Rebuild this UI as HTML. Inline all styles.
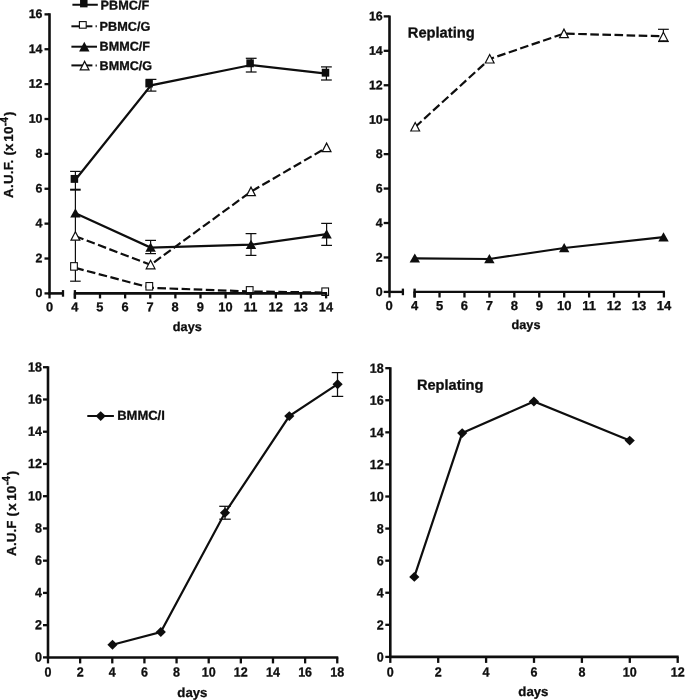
<!DOCTYPE html>
<html><head><meta charset="utf-8"><title>Figure</title>
<style>
html,body{margin:0;padding:0;background:#fff;}
body{width:685px;height:700px;overflow:hidden;}
svg{display:block;will-change:transform;}
svg text{font-family:"Liberation Sans",sans-serif;font-weight:bold;fill:#0e0e0e;stroke:#0e0e0e;stroke-width:0.3px;stroke-linejoin:round;}
</style></head><body>
<svg width="685" height="700" viewBox="0 0 685 700">
<rect width="685" height="700" fill="#fff"/>
<line x1="75.40" y1="171.40" x2="75.40" y2="281.20" stroke="#0e0e0e" stroke-width="1.2" />
<line x1="70.10" y1="171.40" x2="80.70" y2="171.40" stroke="#0e0e0e" stroke-width="1.2" />
<line x1="70.10" y1="189.70" x2="80.70" y2="189.70" stroke="#0e0e0e" stroke-width="2.0" />
<line x1="70.10" y1="281.20" x2="80.70" y2="281.20" stroke="#0e0e0e" stroke-width="1.2" />
<line x1="151.00" y1="79.40" x2="151.00" y2="91.10" stroke="#0e0e0e" stroke-width="1.25" />
<line x1="145.60" y1="79.40" x2="156.40" y2="79.40" stroke="#0e0e0e" stroke-width="1.25" />
<line x1="145.60" y1="91.10" x2="156.40" y2="91.10" stroke="#0e0e0e" stroke-width="1.25" />
<line x1="251.20" y1="58.30" x2="251.20" y2="72.00" stroke="#0e0e0e" stroke-width="1.25" />
<line x1="245.80" y1="58.30" x2="256.60" y2="58.30" stroke="#0e0e0e" stroke-width="1.25" />
<line x1="245.80" y1="72.00" x2="256.60" y2="72.00" stroke="#0e0e0e" stroke-width="1.25" />
<line x1="326.40" y1="66.90" x2="326.40" y2="80.00" stroke="#0e0e0e" stroke-width="1.25" />
<line x1="321.00" y1="66.90" x2="331.80" y2="66.90" stroke="#0e0e0e" stroke-width="1.25" />
<line x1="321.00" y1="80.00" x2="331.80" y2="80.00" stroke="#0e0e0e" stroke-width="1.25" />
<line x1="150.60" y1="240.40" x2="150.60" y2="253.60" stroke="#0e0e0e" stroke-width="1.25" />
<line x1="145.20" y1="240.40" x2="156.00" y2="240.40" stroke="#0e0e0e" stroke-width="1.25" />
<line x1="145.20" y1="253.60" x2="156.00" y2="253.60" stroke="#0e0e0e" stroke-width="1.25" />
<line x1="251.00" y1="233.60" x2="251.00" y2="255.40" stroke="#0e0e0e" stroke-width="1.25" />
<line x1="245.60" y1="233.60" x2="256.40" y2="233.60" stroke="#0e0e0e" stroke-width="1.25" />
<line x1="245.60" y1="255.40" x2="256.40" y2="255.40" stroke="#0e0e0e" stroke-width="1.25" />
<line x1="326.60" y1="223.40" x2="326.60" y2="245.40" stroke="#0e0e0e" stroke-width="1.25" />
<line x1="321.20" y1="223.40" x2="332.00" y2="223.40" stroke="#0e0e0e" stroke-width="1.25" />
<line x1="321.20" y1="245.40" x2="332.00" y2="245.40" stroke="#0e0e0e" stroke-width="1.25" />
<polyline points="75.30,267.90 150.70,287.80 251.00,291.50 326.40,292.60" fill="none" stroke="#0e0e0e" stroke-width="2.2" stroke-linejoin="miter" stroke-dasharray="8.6 3.5"/>
<polyline points="75.40,236.20 150.60,264.80 251.00,191.60 326.60,147.60" fill="none" stroke="#0e0e0e" stroke-width="2.2" stroke-linejoin="miter" stroke-dasharray="8.6 3.5"/>
<polyline points="75.40,213.20 150.60,247.60 251.00,244.70 326.60,234.20" fill="none" stroke="#0e0e0e" stroke-width="2.2" stroke-linejoin="miter" />
<polyline points="75.20,180.00 151.00,85.30 251.20,65.00 326.40,73.70" fill="none" stroke="#0e0e0e" stroke-width="2.2" stroke-linejoin="miter" />
<rect x="70.65" y="262.65" width="6.70" height="7.50" fill="#fff" stroke="#0e0e0e" stroke-width="1.1"/>
<rect x="145.95" y="282.55" width="6.70" height="7.50" fill="#fff" stroke="#0e0e0e" stroke-width="1.1"/>
<rect x="246.35" y="286.65" width="6.70" height="7.50" fill="#fff" stroke="#0e0e0e" stroke-width="1.1"/>
<rect x="321.85" y="287.95" width="6.70" height="7.50" fill="#fff" stroke="#0e0e0e" stroke-width="1.1"/>
<polygon points="75.40,231.70 71.00,240.20 79.80,240.20" fill="#fff" stroke="#0e0e0e" stroke-width="1.2" stroke-linejoin="miter"/>
<polygon points="150.60,260.30 146.20,268.80 155.00,268.80" fill="#fff" stroke="#0e0e0e" stroke-width="1.2" stroke-linejoin="miter"/>
<polygon points="251.00,187.10 246.60,195.60 255.40,195.60" fill="#fff" stroke="#0e0e0e" stroke-width="1.2" stroke-linejoin="miter"/>
<polygon points="326.60,143.10 322.20,151.60 331.00,151.60" fill="#fff" stroke="#0e0e0e" stroke-width="1.2" stroke-linejoin="miter"/>
<polygon points="75.40,208.20 70.20,217.40 80.60,217.40" fill="#0e0e0e"/>
<polygon points="150.60,242.60 145.40,251.80 155.80,251.80" fill="#0e0e0e"/>
<polygon points="251.00,239.70 245.80,248.90 256.20,248.90" fill="#0e0e0e"/>
<polygon points="326.60,229.20 321.40,238.40 331.80,238.40" fill="#0e0e0e"/>
<rect x="70.65" y="174.95" width="7.5" height="7.9" fill="#0e0e0e"/>
<rect x="145.35" y="79.55" width="7.5" height="7.9" fill="#0e0e0e"/>
<rect x="246.35" y="59.35" width="7.5" height="7.9" fill="#0e0e0e"/>
<rect x="321.75" y="68.75" width="7.5" height="7.9" fill="#0e0e0e"/>
<line x1="72.40" y1="4.75" x2="97.80" y2="4.75" stroke="#0e0e0e" stroke-width="2" />
<rect x="80.05" y="-0.55" width="7.5" height="7.9" fill="#0e0e0e"/>
<text x="100.60" y="9.40" transform="rotate(0.03 100.60 9.40)" font-size="12.7" text-anchor="start" >PBMC/F</text>
<line x1="71.40" y1="26.30" x2="92.40" y2="26.30" stroke="#0e0e0e" stroke-width="2" />
<line x1="95.60" y1="26.30" x2="96.80" y2="26.30" stroke="#0e0e0e" stroke-width="2" />
<rect x="79.40" y="21.60" width="6.8" height="6.6" fill="#fff" stroke="#0e0e0e" stroke-width="1.1"/>
<text x="99.60" y="30.80" transform="rotate(0.03 99.60 30.80)" font-size="12.7" text-anchor="start" >PBMC/G</text>
<line x1="71.40" y1="46.70" x2="97.00" y2="46.70" stroke="#0e0e0e" stroke-width="2" />
<polygon points="84.30,41.80 79.10,51.50 89.50,51.50" fill="#0e0e0e"/>
<text x="99.60" y="50.40" transform="rotate(0.03 99.60 50.40)" font-size="12.6" text-anchor="start" >BMMC/F</text>
<line x1="71.40" y1="65.40" x2="92.40" y2="65.40" stroke="#0e0e0e" stroke-width="2" />
<line x1="95.60" y1="65.40" x2="96.80" y2="65.40" stroke="#0e0e0e" stroke-width="2" />
<polygon points="84.60,61.40 80.20,69.90 89.00,69.90" fill="#fff" stroke="#0e0e0e" stroke-width="1.2" stroke-linejoin="miter"/>
<text x="99.60" y="69.90" transform="rotate(0.03 99.60 69.90)" font-size="12.6" text-anchor="start" >BMMC/G</text>
<text transform="translate(13.0,197.9) rotate(-90)" font-size="13.4" letter-spacing="0.2" text-anchor="start">A.U.F. (x <tspan dx="-2.3">10</tspan><tspan font-size="10.2" dy="-5.1">-4</tspan><tspan dx="1.0" dy="5.1">)</tspan></text>
<text x="407.80" y="37.60" transform="rotate(0.03 407.80 37.60)" font-size="14.7" text-anchor="start" >Replating</text>
<line x1="663.40" y1="29.30" x2="663.40" y2="41.50" stroke="#0e0e0e" stroke-width="1.2" />
<line x1="658.00" y1="29.30" x2="668.80" y2="29.30" stroke="#0e0e0e" stroke-width="1.2" />
<line x1="658.00" y1="41.50" x2="668.80" y2="41.50" stroke="#0e0e0e" stroke-width="1.2" />
<polyline points="415.20,127.00 489.69,59.00 563.98,33.60 663.40,36.30" fill="none" stroke="#0e0e0e" stroke-width="2.2" stroke-linejoin="miter" stroke-dasharray="8.6 3.5"/>
<polyline points="414.80,258.40 489.39,259.00 564.18,248.00 663.50,237.20" fill="none" stroke="#0e0e0e" stroke-width="2.2" stroke-linejoin="miter" />
<polygon points="415.20,122.50 410.80,131.00 419.60,131.00" fill="#fff" stroke="#0e0e0e" stroke-width="1.2" stroke-linejoin="miter"/>
<polygon points="489.69,54.50 485.29,63.00 494.09,63.00" fill="#fff" stroke="#0e0e0e" stroke-width="1.2" stroke-linejoin="miter"/>
<polygon points="563.98,29.10 559.58,37.60 568.38,37.60" fill="#fff" stroke="#0e0e0e" stroke-width="1.2" stroke-linejoin="miter"/>
<polygon points="663.40,32.30 659.00,40.80 667.80,40.80" fill="#fff" stroke="#0e0e0e" stroke-width="1.2" stroke-linejoin="miter"/>
<polygon points="414.80,253.40 409.60,262.60 420.00,262.60" fill="#0e0e0e"/>
<polygon points="489.39,254.00 484.19,263.20 494.59,263.20" fill="#0e0e0e"/>
<polygon points="564.18,243.00 558.98,252.20 569.38,252.20" fill="#0e0e0e"/>
<polygon points="663.50,232.20 658.30,241.40 668.70,241.40" fill="#0e0e0e"/>
<line x1="225.00" y1="506.30" x2="225.00" y2="519.20" stroke="#0e0e0e" stroke-width="1.25" />
<line x1="219.25" y1="506.30" x2="230.75" y2="506.30" stroke="#0e0e0e" stroke-width="1.25" />
<line x1="219.25" y1="519.20" x2="230.75" y2="519.20" stroke="#0e0e0e" stroke-width="1.25" />
<line x1="337.50" y1="372.60" x2="337.50" y2="396.40" stroke="#0e0e0e" stroke-width="1.25" />
<line x1="331.75" y1="372.60" x2="343.25" y2="372.60" stroke="#0e0e0e" stroke-width="1.25" />
<line x1="331.75" y1="396.40" x2="343.25" y2="396.40" stroke="#0e0e0e" stroke-width="1.25" />
<polyline points="112.50,644.70 160.80,632.00 225.00,512.80 289.30,416.10 337.60,384.20" fill="none" stroke="#0e0e0e" stroke-width="2.2" stroke-linejoin="miter" />
<polygon points="112.50,639.75 117.60,644.70 112.50,649.65 107.40,644.70" fill="#0e0e0e"/>
<polygon points="160.80,627.05 165.90,632.00 160.80,636.95 155.70,632.00" fill="#0e0e0e"/>
<polygon points="225.00,507.85 230.10,512.80 225.00,517.75 219.90,512.80" fill="#0e0e0e"/>
<polygon points="289.30,411.15 294.40,416.10 289.30,421.05 284.20,416.10" fill="#0e0e0e"/>
<polygon points="337.60,379.25 342.70,384.20 337.60,389.15 332.50,384.20" fill="#0e0e0e"/>
<line x1="87.30" y1="416.00" x2="113.90" y2="416.00" stroke="#0e0e0e" stroke-width="2" />
<polygon points="100.70,411.15 105.80,416.10 100.70,421.05 95.60,416.10" fill="#0e0e0e"/>
<text x="117.20" y="419.80" transform="rotate(0.03 117.20 419.80)" font-size="13.0" text-anchor="start" >BMMC/I</text>
<text transform="translate(15.6,555.9) rotate(-90)" font-size="13.4" letter-spacing="0.12" text-anchor="start">A.U.F (<tspan dx="1.2">x</tspan> <tspan dx="-1.5">10</tspan><tspan font-size="10.2" dx="0.4" dy="-5.8">-4</tspan><tspan dx="0.7" dy="5.8">)</tspan></text>
<text x="416.90" y="389.70" transform="rotate(0.03 416.90 389.70)" font-size="14.6" text-anchor="start" >Replating</text>
<polyline points="414.30,576.90 462.20,433.10 533.90,401.50 629.70,440.60" fill="none" stroke="#0e0e0e" stroke-width="2.2" stroke-linejoin="miter" />
<polygon points="414.30,571.95 419.40,576.90 414.30,581.85 409.20,576.90" fill="#0e0e0e"/>
<polygon points="462.20,428.15 467.30,433.10 462.20,438.05 457.10,433.10" fill="#0e0e0e"/>
<polygon points="533.90,396.55 539.00,401.50 533.90,406.45 528.80,401.50" fill="#0e0e0e"/>
<polygon points="629.70,435.65 634.80,440.60 629.70,445.55 624.60,440.60" fill="#0e0e0e"/>
<line x1="49.50" y1="13.36" x2="49.50" y2="294.40" stroke="#0e0e0e" stroke-width="2.6" />
<line x1="48.50" y1="293.40" x2="63.00" y2="293.40" stroke="#0e0e0e" stroke-width="2.6" />
<line x1="63.00" y1="290.10" x2="63.00" y2="296.70" stroke="#0e0e0e" stroke-width="2.3" />
<line x1="73.90" y1="293.40" x2="327.10" y2="293.40" stroke="#0e0e0e" stroke-width="2.6" />
<line x1="74.90" y1="290.10" x2="74.90" y2="298.80" stroke="#0e0e0e" stroke-width="2.3" />
<line x1="44.50" y1="293.40" x2="49.50" y2="293.40" stroke="#0e0e0e" stroke-width="2.3" />
<text x="42.50" y="297.10" transform="rotate(0.03 42.50 297.10)" font-size="12.4" text-anchor="end" >0</text>
<line x1="44.50" y1="258.52" x2="49.50" y2="258.52" stroke="#0e0e0e" stroke-width="2.3" />
<text x="42.50" y="262.22" transform="rotate(0.03 42.50 262.22)" font-size="12.4" text-anchor="end" >2</text>
<line x1="44.50" y1="223.64" x2="49.50" y2="223.64" stroke="#0e0e0e" stroke-width="2.3" />
<text x="42.50" y="227.34" transform="rotate(0.03 42.50 227.34)" font-size="12.4" text-anchor="end" >4</text>
<line x1="44.50" y1="188.76" x2="49.50" y2="188.76" stroke="#0e0e0e" stroke-width="2.3" />
<text x="42.50" y="192.46" transform="rotate(0.03 42.50 192.46)" font-size="12.4" text-anchor="end" >6</text>
<line x1="44.50" y1="153.88" x2="49.50" y2="153.88" stroke="#0e0e0e" stroke-width="2.3" />
<text x="42.50" y="157.58" transform="rotate(0.03 42.50 157.58)" font-size="12.4" text-anchor="end" >8</text>
<line x1="44.50" y1="119.00" x2="49.50" y2="119.00" stroke="#0e0e0e" stroke-width="2.3" />
<text x="42.50" y="122.70" transform="rotate(0.03 42.50 122.70)" font-size="12.4" text-anchor="end" >10</text>
<line x1="44.50" y1="84.12" x2="49.50" y2="84.12" stroke="#0e0e0e" stroke-width="2.3" />
<text x="42.50" y="87.82" transform="rotate(0.03 42.50 87.82)" font-size="12.4" text-anchor="end" >12</text>
<line x1="44.50" y1="49.24" x2="49.50" y2="49.24" stroke="#0e0e0e" stroke-width="2.3" />
<text x="42.50" y="52.94" transform="rotate(0.03 42.50 52.94)" font-size="12.4" text-anchor="end" >14</text>
<line x1="44.50" y1="14.36" x2="49.50" y2="14.36" stroke="#0e0e0e" stroke-width="2.3" />
<text x="42.50" y="18.06" transform="rotate(0.03 42.50 18.06)" font-size="12.4" text-anchor="end" >16</text>
<line x1="49.50" y1="293.40" x2="49.50" y2="298.40" stroke="#0e0e0e" stroke-width="2.3" />
<text x="49.50" y="311.20" transform="rotate(0.03 49.50 311.20)" font-size="12.8" text-anchor="middle" >0</text>
<line x1="74.90" y1="293.40" x2="74.90" y2="298.40" stroke="#0e0e0e" stroke-width="2.3" />
<text x="74.70" y="311.20" transform="rotate(0.03 74.70 311.20)" font-size="12.8" text-anchor="middle" >4</text>
<line x1="100.02" y1="293.40" x2="100.02" y2="298.40" stroke="#0e0e0e" stroke-width="2.3" />
<text x="99.82" y="311.20" transform="rotate(0.03 99.82 311.20)" font-size="12.8" text-anchor="middle" >5</text>
<line x1="125.14" y1="293.40" x2="125.14" y2="298.40" stroke="#0e0e0e" stroke-width="2.3" />
<text x="124.94" y="311.20" transform="rotate(0.03 124.94 311.20)" font-size="12.8" text-anchor="middle" >6</text>
<line x1="150.26" y1="293.40" x2="150.26" y2="298.40" stroke="#0e0e0e" stroke-width="2.3" />
<text x="150.06" y="311.20" transform="rotate(0.03 150.06 311.20)" font-size="12.8" text-anchor="middle" >7</text>
<line x1="175.38" y1="293.40" x2="175.38" y2="298.40" stroke="#0e0e0e" stroke-width="2.3" />
<text x="175.18" y="311.20" transform="rotate(0.03 175.18 311.20)" font-size="12.8" text-anchor="middle" >8</text>
<line x1="200.50" y1="293.40" x2="200.50" y2="298.40" stroke="#0e0e0e" stroke-width="2.3" />
<text x="200.30" y="311.20" transform="rotate(0.03 200.30 311.20)" font-size="12.8" text-anchor="middle" >9</text>
<line x1="225.62" y1="293.40" x2="225.62" y2="298.40" stroke="#0e0e0e" stroke-width="2.3" />
<text x="225.42" y="311.20" transform="rotate(0.03 225.42 311.20)" font-size="12.8" text-anchor="middle" >10</text>
<line x1="250.74" y1="293.40" x2="250.74" y2="298.40" stroke="#0e0e0e" stroke-width="2.3" />
<text x="250.54" y="311.20" transform="rotate(0.03 250.54 311.20)" font-size="12.8" text-anchor="middle" >11</text>
<line x1="275.86" y1="293.40" x2="275.86" y2="298.40" stroke="#0e0e0e" stroke-width="2.3" />
<text x="275.66" y="311.20" transform="rotate(0.03 275.66 311.20)" font-size="12.8" text-anchor="middle" >12</text>
<line x1="300.98" y1="293.40" x2="300.98" y2="298.40" stroke="#0e0e0e" stroke-width="2.3" />
<text x="300.78" y="311.20" transform="rotate(0.03 300.78 311.20)" font-size="12.8" text-anchor="middle" >13</text>
<line x1="326.10" y1="293.40" x2="326.10" y2="298.40" stroke="#0e0e0e" stroke-width="2.3" />
<text x="325.90" y="311.20" transform="rotate(0.03 325.90 311.20)" font-size="12.8" text-anchor="middle" >14</text>
<text x="187.30" y="331.00" transform="rotate(0.03 187.30 331.00)" font-size="12.7" text-anchor="middle" >days</text>
<line x1="389.50" y1="15.38" x2="389.50" y2="292.90" stroke="#0e0e0e" stroke-width="2.6" />
<line x1="388.50" y1="291.90" x2="402.90" y2="291.90" stroke="#0e0e0e" stroke-width="2.35" />
<line x1="402.90" y1="288.60" x2="402.90" y2="295.20" stroke="#0e0e0e" stroke-width="2.3" />
<line x1="413.60" y1="291.90" x2="664.90" y2="291.90" stroke="#0e0e0e" stroke-width="2.35" />
<line x1="414.60" y1="288.60" x2="414.60" y2="297.50" stroke="#0e0e0e" stroke-width="2.3" />
<line x1="383.70" y1="291.90" x2="389.50" y2="291.90" stroke="#0e0e0e" stroke-width="2.3" />
<text x="382.70" y="295.90" transform="rotate(0.03 382.70 295.90)" font-size="12.4" text-anchor="end" >0</text>
<line x1="383.70" y1="257.46" x2="389.50" y2="257.46" stroke="#0e0e0e" stroke-width="2.3" />
<text x="382.70" y="261.46" transform="rotate(0.03 382.70 261.46)" font-size="12.4" text-anchor="end" >2</text>
<line x1="383.70" y1="223.02" x2="389.50" y2="223.02" stroke="#0e0e0e" stroke-width="2.3" />
<text x="382.70" y="227.02" transform="rotate(0.03 382.70 227.02)" font-size="12.4" text-anchor="end" >4</text>
<line x1="383.70" y1="188.58" x2="389.50" y2="188.58" stroke="#0e0e0e" stroke-width="2.3" />
<text x="382.70" y="192.58" transform="rotate(0.03 382.70 192.58)" font-size="12.4" text-anchor="end" >6</text>
<line x1="383.70" y1="154.14" x2="389.50" y2="154.14" stroke="#0e0e0e" stroke-width="2.3" />
<text x="382.70" y="158.14" transform="rotate(0.03 382.70 158.14)" font-size="12.4" text-anchor="end" >8</text>
<line x1="383.70" y1="119.70" x2="389.50" y2="119.70" stroke="#0e0e0e" stroke-width="2.3" />
<text x="382.70" y="123.70" transform="rotate(0.03 382.70 123.70)" font-size="12.4" text-anchor="end" >10</text>
<line x1="383.70" y1="85.26" x2="389.50" y2="85.26" stroke="#0e0e0e" stroke-width="2.3" />
<text x="382.70" y="89.26" transform="rotate(0.03 382.70 89.26)" font-size="12.4" text-anchor="end" >12</text>
<line x1="383.70" y1="50.82" x2="389.50" y2="50.82" stroke="#0e0e0e" stroke-width="2.3" />
<text x="382.70" y="54.82" transform="rotate(0.03 382.70 54.82)" font-size="12.4" text-anchor="end" >14</text>
<line x1="383.70" y1="16.38" x2="389.50" y2="16.38" stroke="#0e0e0e" stroke-width="2.3" />
<text x="382.70" y="20.38" transform="rotate(0.03 382.70 20.38)" font-size="12.4" text-anchor="end" >16</text>
<line x1="389.50" y1="291.90" x2="389.50" y2="297.50" stroke="#0e0e0e" stroke-width="2.3" />
<text x="389.10" y="310.10" transform="rotate(0.03 389.10 310.10)" font-size="13.0" text-anchor="middle" >0</text>
<line x1="414.60" y1="291.90" x2="414.60" y2="297.50" stroke="#0e0e0e" stroke-width="2.3" />
<text x="414.60" y="310.10" transform="rotate(0.03 414.60 310.10)" font-size="13.0" text-anchor="middle" >4</text>
<line x1="439.53" y1="291.90" x2="439.53" y2="297.50" stroke="#0e0e0e" stroke-width="2.3" />
<text x="439.53" y="310.10" transform="rotate(0.03 439.53 310.10)" font-size="13.0" text-anchor="middle" >5</text>
<line x1="464.46" y1="291.90" x2="464.46" y2="297.50" stroke="#0e0e0e" stroke-width="2.3" />
<text x="464.46" y="310.10" transform="rotate(0.03 464.46 310.10)" font-size="13.0" text-anchor="middle" >6</text>
<line x1="489.39" y1="291.90" x2="489.39" y2="297.50" stroke="#0e0e0e" stroke-width="2.3" />
<text x="489.39" y="310.10" transform="rotate(0.03 489.39 310.10)" font-size="13.0" text-anchor="middle" >7</text>
<line x1="514.32" y1="291.90" x2="514.32" y2="297.50" stroke="#0e0e0e" stroke-width="2.3" />
<text x="514.32" y="310.10" transform="rotate(0.03 514.32 310.10)" font-size="13.0" text-anchor="middle" >8</text>
<line x1="539.25" y1="291.90" x2="539.25" y2="297.50" stroke="#0e0e0e" stroke-width="2.3" />
<text x="539.25" y="310.10" transform="rotate(0.03 539.25 310.10)" font-size="13.0" text-anchor="middle" >9</text>
<line x1="564.18" y1="291.90" x2="564.18" y2="297.50" stroke="#0e0e0e" stroke-width="2.3" />
<text x="564.18" y="310.10" transform="rotate(0.03 564.18 310.10)" font-size="13.0" text-anchor="middle" >10</text>
<line x1="589.11" y1="291.90" x2="589.11" y2="297.50" stroke="#0e0e0e" stroke-width="2.3" />
<text x="589.11" y="310.10" transform="rotate(0.03 589.11 310.10)" font-size="13.0" text-anchor="middle" >11</text>
<line x1="614.04" y1="291.90" x2="614.04" y2="297.50" stroke="#0e0e0e" stroke-width="2.3" />
<text x="614.04" y="310.10" transform="rotate(0.03 614.04 310.10)" font-size="13.0" text-anchor="middle" >12</text>
<line x1="638.97" y1="291.90" x2="638.97" y2="297.50" stroke="#0e0e0e" stroke-width="2.3" />
<text x="638.97" y="310.10" transform="rotate(0.03 638.97 310.10)" font-size="13.0" text-anchor="middle" >13</text>
<line x1="663.90" y1="291.90" x2="663.90" y2="297.50" stroke="#0e0e0e" stroke-width="2.3" />
<text x="663.90" y="310.10" transform="rotate(0.03 663.90 310.10)" font-size="13.0" text-anchor="middle" >14</text>
<text x="526.00" y="328.90" transform="rotate(0.03 526.00 328.90)" font-size="12.7" text-anchor="middle" >days</text>
<line x1="48.00" y1="366.24" x2="48.00" y2="658.40" stroke="#0e0e0e" stroke-width="2.6" />
<line x1="47.00" y1="657.40" x2="338.26" y2="657.40" stroke="#0e0e0e" stroke-width="2.45" />
<line x1="43.00" y1="657.40" x2="48.00" y2="657.40" stroke="#0e0e0e" stroke-width="2.3" />
<text transform="translate(42.00 661.55) rotate(0.03) scale(0.95 1)" font-size="13.2" text-anchor="end" >0</text>
<line x1="43.00" y1="625.16" x2="48.00" y2="625.16" stroke="#0e0e0e" stroke-width="2.3" />
<text transform="translate(42.00 629.31) rotate(0.03) scale(0.95 1)" font-size="13.2" text-anchor="end" >2</text>
<line x1="43.00" y1="592.92" x2="48.00" y2="592.92" stroke="#0e0e0e" stroke-width="2.3" />
<text transform="translate(42.00 597.07) rotate(0.03) scale(0.95 1)" font-size="13.2" text-anchor="end" >4</text>
<line x1="43.00" y1="560.68" x2="48.00" y2="560.68" stroke="#0e0e0e" stroke-width="2.3" />
<text transform="translate(42.00 564.83) rotate(0.03) scale(0.95 1)" font-size="13.2" text-anchor="end" >6</text>
<line x1="43.00" y1="528.44" x2="48.00" y2="528.44" stroke="#0e0e0e" stroke-width="2.3" />
<text transform="translate(42.00 532.59) rotate(0.03) scale(0.95 1)" font-size="13.2" text-anchor="end" >8</text>
<line x1="43.00" y1="496.20" x2="48.00" y2="496.20" stroke="#0e0e0e" stroke-width="2.3" />
<text transform="translate(42.00 500.35) rotate(0.03) scale(0.95 1)" font-size="13.2" text-anchor="end" >10</text>
<line x1="43.00" y1="463.96" x2="48.00" y2="463.96" stroke="#0e0e0e" stroke-width="2.3" />
<text transform="translate(42.00 468.11) rotate(0.03) scale(0.95 1)" font-size="13.2" text-anchor="end" >12</text>
<line x1="43.00" y1="431.72" x2="48.00" y2="431.72" stroke="#0e0e0e" stroke-width="2.3" />
<text transform="translate(42.00 435.87) rotate(0.03) scale(0.95 1)" font-size="13.2" text-anchor="end" >14</text>
<line x1="43.00" y1="399.48" x2="48.00" y2="399.48" stroke="#0e0e0e" stroke-width="2.3" />
<text transform="translate(42.00 403.63) rotate(0.03) scale(0.95 1)" font-size="13.2" text-anchor="end" >16</text>
<line x1="43.00" y1="367.24" x2="48.00" y2="367.24" stroke="#0e0e0e" stroke-width="2.3" />
<text transform="translate(42.00 371.39) rotate(0.03) scale(0.95 1)" font-size="13.2" text-anchor="end" >18</text>
<line x1="48.00" y1="657.40" x2="48.00" y2="663.40" stroke="#0e0e0e" stroke-width="2.3" />
<text transform="translate(48.00 676.60) rotate(0.03) scale(0.95 1)" font-size="13.2" text-anchor="middle" >0</text>
<line x1="80.14" y1="657.40" x2="80.14" y2="663.40" stroke="#0e0e0e" stroke-width="2.3" />
<text transform="translate(80.14 676.60) rotate(0.03) scale(0.95 1)" font-size="13.2" text-anchor="middle" >2</text>
<line x1="112.28" y1="657.40" x2="112.28" y2="663.40" stroke="#0e0e0e" stroke-width="2.3" />
<text transform="translate(112.28 676.60) rotate(0.03) scale(0.95 1)" font-size="13.2" text-anchor="middle" >4</text>
<line x1="144.42" y1="657.40" x2="144.42" y2="663.40" stroke="#0e0e0e" stroke-width="2.3" />
<text transform="translate(144.42 676.60) rotate(0.03) scale(0.95 1)" font-size="13.2" text-anchor="middle" >6</text>
<line x1="176.56" y1="657.40" x2="176.56" y2="663.40" stroke="#0e0e0e" stroke-width="2.3" />
<text transform="translate(176.56 676.60) rotate(0.03) scale(0.95 1)" font-size="13.2" text-anchor="middle" >8</text>
<line x1="208.70" y1="657.40" x2="208.70" y2="663.40" stroke="#0e0e0e" stroke-width="2.3" />
<text transform="translate(208.70 676.60) rotate(0.03) scale(0.95 1)" font-size="13.2" text-anchor="middle" >10</text>
<line x1="240.84" y1="657.40" x2="240.84" y2="663.40" stroke="#0e0e0e" stroke-width="2.3" />
<text transform="translate(240.84 676.60) rotate(0.03) scale(0.95 1)" font-size="13.2" text-anchor="middle" >12</text>
<line x1="272.98" y1="657.40" x2="272.98" y2="663.40" stroke="#0e0e0e" stroke-width="2.3" />
<text transform="translate(272.98 676.60) rotate(0.03) scale(0.95 1)" font-size="13.2" text-anchor="middle" >14</text>
<line x1="305.12" y1="657.40" x2="305.12" y2="663.40" stroke="#0e0e0e" stroke-width="2.3" />
<text transform="translate(305.12 676.60) rotate(0.03) scale(0.95 1)" font-size="13.2" text-anchor="middle" >16</text>
<line x1="337.26" y1="657.40" x2="337.26" y2="663.40" stroke="#0e0e0e" stroke-width="2.3" />
<text transform="translate(337.26 676.60) rotate(0.03) scale(0.95 1)" font-size="13.2" text-anchor="middle" >18</text>
<text x="192.40" y="696.90" transform="rotate(0.03 192.40 696.90)" font-size="13.2" text-anchor="middle" >days</text>
<line x1="390.30" y1="367.18" x2="390.30" y2="657.90" stroke="#0e0e0e" stroke-width="2.6" />
<line x1="389.30" y1="656.90" x2="678.70" y2="656.90" stroke="#0e0e0e" stroke-width="2.6" />
<line x1="385.30" y1="656.90" x2="390.30" y2="656.90" stroke="#0e0e0e" stroke-width="2.3" />
<text transform="translate(383.70 661.50) rotate(0.03) scale(0.95 1)" font-size="13.2" text-anchor="end" >0</text>
<line x1="385.30" y1="624.82" x2="390.30" y2="624.82" stroke="#0e0e0e" stroke-width="2.3" />
<text transform="translate(383.70 629.42) rotate(0.03) scale(0.95 1)" font-size="13.2" text-anchor="end" >2</text>
<line x1="385.30" y1="592.74" x2="390.30" y2="592.74" stroke="#0e0e0e" stroke-width="2.3" />
<text transform="translate(383.70 597.34) rotate(0.03) scale(0.95 1)" font-size="13.2" text-anchor="end" >4</text>
<line x1="385.30" y1="560.66" x2="390.30" y2="560.66" stroke="#0e0e0e" stroke-width="2.3" />
<text transform="translate(383.70 565.26) rotate(0.03) scale(0.95 1)" font-size="13.2" text-anchor="end" >6</text>
<line x1="385.30" y1="528.58" x2="390.30" y2="528.58" stroke="#0e0e0e" stroke-width="2.3" />
<text transform="translate(383.70 533.18) rotate(0.03) scale(0.95 1)" font-size="13.2" text-anchor="end" >8</text>
<line x1="385.30" y1="496.50" x2="390.30" y2="496.50" stroke="#0e0e0e" stroke-width="2.3" />
<text transform="translate(383.70 501.10) rotate(0.03) scale(0.95 1)" font-size="13.2" text-anchor="end" >10</text>
<line x1="385.30" y1="464.42" x2="390.30" y2="464.42" stroke="#0e0e0e" stroke-width="2.3" />
<text transform="translate(383.70 469.02) rotate(0.03) scale(0.95 1)" font-size="13.2" text-anchor="end" >12</text>
<line x1="385.30" y1="432.34" x2="390.30" y2="432.34" stroke="#0e0e0e" stroke-width="2.3" />
<text transform="translate(383.70 436.94) rotate(0.03) scale(0.95 1)" font-size="13.2" text-anchor="end" >14</text>
<line x1="385.30" y1="400.26" x2="390.30" y2="400.26" stroke="#0e0e0e" stroke-width="2.3" />
<text transform="translate(383.70 404.86) rotate(0.03) scale(0.95 1)" font-size="13.2" text-anchor="end" >16</text>
<line x1="385.30" y1="368.18" x2="390.30" y2="368.18" stroke="#0e0e0e" stroke-width="2.3" />
<text transform="translate(383.70 372.78) rotate(0.03) scale(0.95 1)" font-size="13.2" text-anchor="end" >18</text>
<line x1="390.30" y1="656.90" x2="390.30" y2="662.90" stroke="#0e0e0e" stroke-width="2.3" />
<text transform="translate(390.30 676.50) rotate(0.03) scale(0.95 1)" font-size="13.2" text-anchor="middle" >0</text>
<line x1="438.20" y1="656.90" x2="438.20" y2="662.90" stroke="#0e0e0e" stroke-width="2.3" />
<text transform="translate(438.20 676.50) rotate(0.03) scale(0.95 1)" font-size="13.2" text-anchor="middle" >2</text>
<line x1="486.10" y1="656.90" x2="486.10" y2="662.90" stroke="#0e0e0e" stroke-width="2.3" />
<text transform="translate(486.10 676.50) rotate(0.03) scale(0.95 1)" font-size="13.2" text-anchor="middle" >4</text>
<line x1="534.00" y1="656.90" x2="534.00" y2="662.90" stroke="#0e0e0e" stroke-width="2.3" />
<text transform="translate(534.00 676.50) rotate(0.03) scale(0.95 1)" font-size="13.2" text-anchor="middle" >6</text>
<line x1="581.90" y1="656.90" x2="581.90" y2="662.90" stroke="#0e0e0e" stroke-width="2.3" />
<text transform="translate(581.90 676.50) rotate(0.03) scale(0.95 1)" font-size="13.2" text-anchor="middle" >8</text>
<line x1="629.80" y1="656.90" x2="629.80" y2="662.90" stroke="#0e0e0e" stroke-width="2.3" />
<text transform="translate(629.80 676.50) rotate(0.03) scale(0.95 1)" font-size="13.2" text-anchor="middle" >10</text>
<line x1="677.70" y1="656.90" x2="677.70" y2="662.90" stroke="#0e0e0e" stroke-width="2.3" />
<text transform="translate(677.70 676.50) rotate(0.03) scale(0.95 1)" font-size="13.2" text-anchor="middle" >12</text>
<text x="533.40" y="696.00" transform="rotate(0.03 533.40 696.00)" font-size="13.2" text-anchor="middle" >days</text>
</svg>
</body></html>
